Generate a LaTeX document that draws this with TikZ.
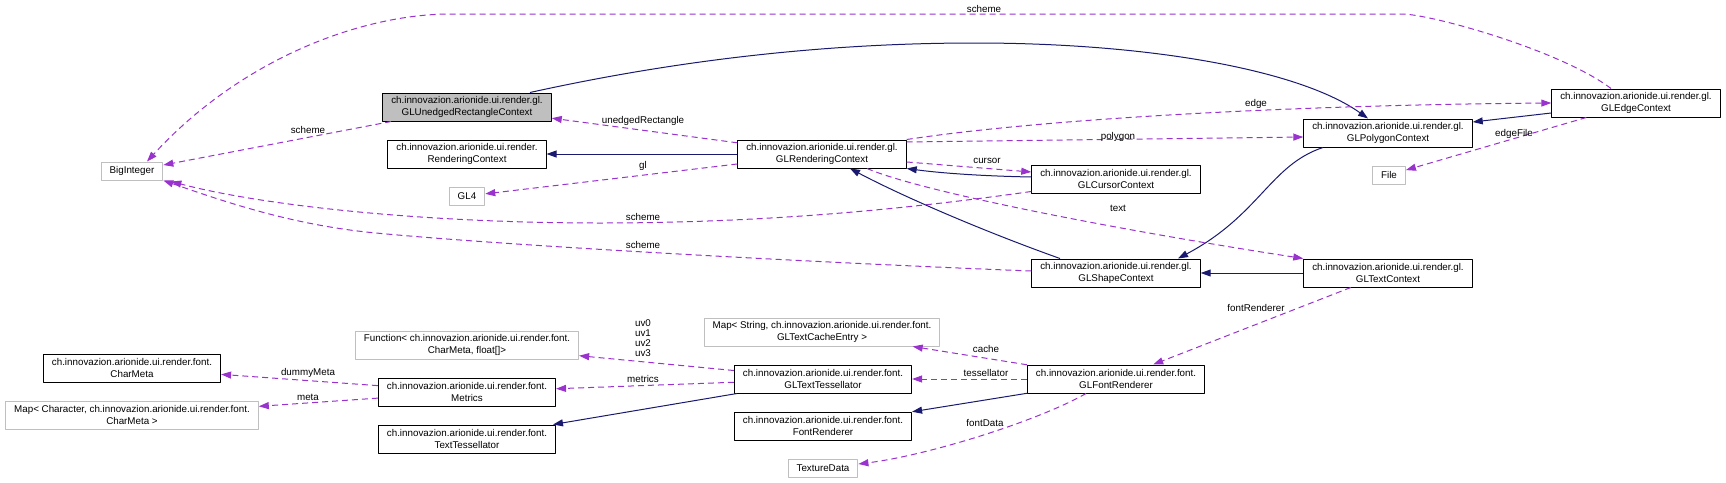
\documentclass[tikz,border=0pt]{standalone}
\usepackage{fontspec}
\setmainfont{Liberation Sans}
\usetikzlibrary{arrows.meta,calc}
\definecolor{usecol}{HTML}{9A32CD}
\definecolor{inhcol}{HTML}{191970}
\definecolor{extgray}{HTML}{BFBFBF}
\begin{document}
\begin{tikzpicture}[x=1pt,y=-1pt,line join=round,
	cls/.style={draw=black,fill=white,line width=1pt,align=center,inner xsep=8.5pt,inner ysep=2pt,minimum height=28pt,font=\fontsize{9.8}{11.4}\selectfont},
	focus/.style={cls,fill=extgray},
	ext/.style={cls,draw=extgray,minimum height=18pt},
	uses/.style={draw=usecol,line width=1pt,dash pattern=on 6pt off 4pt,-{Triangle[length=10pt,width=7pt,fill=usecol]}},
	inherits/.style={draw=inhcol,line width=1pt,-{Triangle[length=10pt,width=7pt,fill=inhcol]}},
	lbl/.style={inner sep=0pt,align=center,font=\fontsize{9.8}{10}\selectfont}]
	\useasboundingbox (0,0) rectangle (1726,482);
	% classes
	\node[focus] (unedged) at (467,107) {ch.innovazion.arionide.ui.render.gl.\\GLUnedgedRectangleContext};
	\node[cls] (rendctx) at (467,154) {ch.innovazion.arionide.ui.render.\\RenderingContext};
	\node[ext] (bigint) at (132,171) {BigInteger};
	\node[ext] (glfour) at (467,196) {GL4};
	\node[cls] (glrend) at (822,154) {ch.innovazion.arionide.ui.render.gl.\\GLRenderingContext};
	\node[cls] (cursorctx) at (1116,179) {ch.innovazion.arionide.ui.render.gl.\\GLCursorContext};
	\node[cls] (polyctx) at (1388,133) {ch.innovazion.arionide.ui.render.gl.\\GLPolygonContext};
	\node[cls] (edgectx) at (1636,103) {ch.innovazion.arionide.ui.render.gl.\\GLEdgeContext};
	\node[ext] (filenode) at (1389,175) {File};
	\node[cls] (shapectx) at (1116,273) {ch.innovazion.arionide.ui.render.gl.\\GLShapeContext};
	\node[cls] (textctx) at (1388,273) {ch.innovazion.arionide.ui.render.gl.\\GLTextContext};
	\node[ext,minimum height=28pt] (func) at (467,345) {Function< ch.innovazion.arionide.ui.render.font.\\CharMeta, float[]>};
	\node[ext,minimum height=28pt] (strmap) at (822,332) {Map< String, ch.innovazion.arionide.ui.render.font.\\GLTextCacheEntry >};
	\node[cls] (charmeta) at (132,368) {ch.innovazion.arionide.ui.render.font.\\CharMeta};
	\node[cls] (metrics) at (467,392) {ch.innovazion.arionide.ui.render.font.\\Metrics};
	\node[ext,minimum height=28pt] (charmap) at (132,415) {Map< Character, ch.innovazion.arionide.ui.render.font.\\CharMeta >};
	\node[cls] (texttess) at (467,439) {ch.innovazion.arionide.ui.render.font.\\TextTessellator};
	\node[cls] (gltexttess) at (823,379) {ch.innovazion.arionide.ui.render.font.\\GLTextTessellator};
	\node[cls] (fontrend) at (823,426) {ch.innovazion.arionide.ui.render.font.\\FontRenderer};
	\node[cls] (glfontrend) at (1116,379) {ch.innovazion.arionide.ui.render.font.\\GLFontRenderer};
	\node[ext] (texdata) at (823,468) {TextureData};
	% relations
	\draw[uses] (glrend) -- (unedged);
	\draw[inherits] (glrend) -- (rendctx);
	\draw[uses] (glrend) -- (glfour);
	\draw[uses] (unedged) -- (bigint);
	\draw[uses] ($(edgectx.north)+(-25,0)$) .. controls (1560,50) and (1430,14) .. (1402,14) -- (451,14) .. controls (360,14) and (240,60) .. ($(bigint.north)+(15,0)$);
	\draw[inherits] ($(unedged.north)+(63,0)$) .. controls (700,55) and (850,43) .. (975,43) .. controls (1150,43) and (1300,70) .. ($(polyctx.north)+(-20,0)$);
	\draw[uses] ($(glrend.east)+(0,-12)$) -- ($(polyctx.west)+(0,4)$);
	\draw[uses] (glrend.north east) .. controls (1050,118) and (1300,105) .. (edgectx.west);
	\draw[inherits] ($(edgectx.west)+(0,10)$) -- ($(polyctx.east)+(0,-11)$);
	\draw[uses] (edgectx) -- (filenode);
	\draw[uses] ($(glrend.east)+(0,8)$) -- ($(cursorctx.west)+(0,-7)$);
	\draw[inherits] ($(cursorctx.west)+(0,-2)$) .. controls (980,176) and (940,173) .. (glrend.south east);
	\draw[uses] ($(cursorctx.south west)+(0,-2)$) .. controls (900,210) and (760,223) .. (600,223) .. controls (420,223) and (260,205) .. ($(bigint.south east)+(8,1)$);
	\draw[uses] ($(shapectx.west)+(0,-2)$) .. controls (800,262) and (500,245) .. (376,233) .. controls (290,225) and (220,200) .. (bigint.south east);
	\draw[inherits] ($(shapectx.north)+(-56,0)$) .. controls (980,230) and (900,195) .. ($(glrend.south)+(28,0)$);
	\draw[inherits] ($(polyctx.south)+(-65,0)$) .. controls (1270,165) and (1260,215) .. ($(shapectx.north)+(62,0)$);
	\draw[inherits] (textctx) -- (shapectx);
	\draw[uses] ($(glrend.south)+(45,0)$) .. controls (930,195) and (1150,235) .. (textctx.north west);
	\draw[uses] (textctx) -- (glfontrend);
	\draw[uses] (glfontrend) -- (strmap);
	\draw[uses] (glfontrend) -- (gltexttess);
	\draw[inherits] (glfontrend) -- (fontrend);
	\draw[uses] ($(glfontrend.south)+(-30,0)$) .. controls (1040,420) and (930,455) .. ($(texdata.east)+(0,-4)$);
	\draw[uses] (gltexttess) -- (func);
	\draw[uses] (gltexttess) -- (metrics);
	\draw[inherits] (gltexttess) -- (texttess);
	\draw[uses] (metrics) -- (charmeta);
	\draw[uses] (metrics) -- (charmap);
	% labels
	\node[lbl] (lunedged) at (643,121) {unedgedRectangle};
	\node[lbl] (lscheme1) at (308,130) {scheme};
	\node[lbl] (lgl) at (643,166) {gl};
	\node[lbl] (lscheme2) at (984,9) {scheme};
	\node[lbl] (lpolygon) at (1118,137) {polygon};
	\node[lbl] (ledge) at (1256,104) {edge};
	\node[lbl] (ledgefile) at (1514,134) {edgeFile};
	\node[lbl] (lcursor) at (987,161) {cursor};
	\node[lbl] (lscheme3) at (643,217) {scheme};
	\node[lbl] (lscheme4) at (643,245) {scheme};
	\node[lbl] (ltext) at (1118,208) {text};
	\node[lbl] (lfontrend) at (1256,308) {fontRenderer};
	\node[lbl] (lcache) at (986,349) {cache};
	\node[lbl] (ltess) at (986,373) {tessellator};
	\node[lbl] (lfontdata) at (985,423) {fontData};
	\node[lbl] (luv) at (643,338) {uv0\\uv1\\uv2\\uv3};
	\node[lbl] (lmetrics) at (643,379) {metrics};
	\node[lbl] (ldummy) at (308,373) {dummyMeta};
	\node[lbl] (lmeta) at (308,397) {meta};
\end{tikzpicture}
\end{document}
